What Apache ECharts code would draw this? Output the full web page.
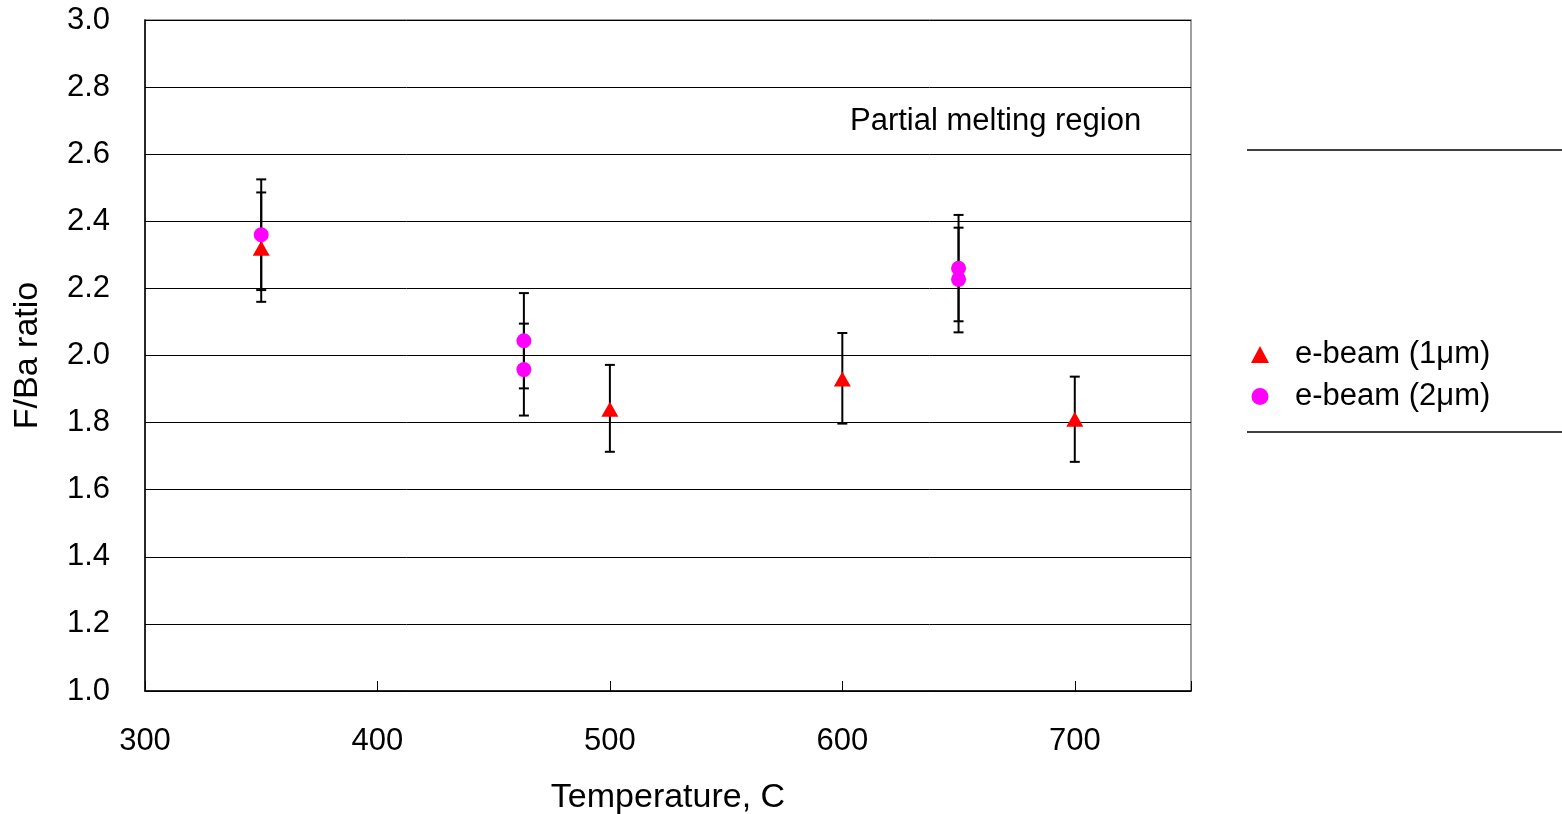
<!DOCTYPE html>
<html>
<head>
<meta charset="utf-8">
<script src="https://cdn.jsdelivr.net/npm/echarts@6/dist/echarts.min.js"></script>
<style>
  html, body { margin: 0; padding: 0; background: #fff; }
  #chart { width: 1562px; height: 814px; }
</style>
</head>
<body>
<div id="chart"></div>
<script>
// e-beam (1um): temperature, F/Ba ratio, error bar low / high
var temp1 = [350, 500, 600, 700]
var ratio1 = [2.32, 1.84, 1.93, 1.81]
var low1 = [2.16, 1.713, 1.797, 1.683]
var high1 = [2.486, 1.972, 2.067, 1.937]

// e-beam (2um)
var temp2 = [350, 463, 463, 650, 650]
var ratio2 = [2.36, 2.044, 1.958, 2.26, 2.227]
var low2 = [2.195, 1.902, 1.821, 2.102, 2.069]
var high2 = [2.525, 2.186, 2.095, 2.419, 2.381]

var seriesNames = ['e-beam (1μm)', 'e-beam (2μm)']
var noteText = 'Partial melting region'

var FONT = 'Liberation Sans, Arial, sans-serif'

function pts (xs, ys) {
  return xs.map(function (x, i) { return [x, ys[i]] })
}
function bars (xs, lo, hi) {
  return xs.map(function (x, i) { return [x, lo[i], hi[i]] })
}

// error bar: vertical line + caps
function renderErr (params, api) {
  var x = api.value(0)
  var top = api.coord([x, api.value(2)])
  var bot = api.coord([x, api.value(1)])
  var w = 5
  var st = { stroke: '#000', lineWidth: 2 }
  return {
    type: 'group',
    children: [
      { type: 'line', shape: { x1: top[0], y1: top[1], x2: bot[0], y2: bot[1] }, style: st },
      { type: 'line', shape: { x1: top[0] - w, y1: top[1], x2: top[0] + w, y2: top[1] }, style: st },
      { type: 'line', shape: { x1: bot[0] - w, y1: bot[1], x2: bot[0] + w, y2: bot[1] }, style: st }
    ]
  }
}

var myChart = echarts.init(document.getElementById('chart'))
var option = {
  animation: false,
  textStyle: { fontFamily: FONT },
  grid: {
    left: 145, right: 371, top: 20, bottom: 123,
    outerBoundsMode: 'none',
    show: true, borderColor: '#808080', borderWidth: 1.5
  },
  legend: {
    orient: 'vertical',
    left: 1246,
    top: 334,
    itemWidth: 18,
    itemHeight: 17,
    itemGap: 11,
    textStyle: { fontSize: 31, color: '#000', fontFamily: FONT, lineHeight: 31, padding: [0, 0, 0, 21] },
    data: [
      { name: seriesNames[0], icon: 'triangle' },
      { name: seriesNames[1], icon: 'circle' }
    ]
  },
  xAxis: {
    type: 'value',
    min: 300,
    max: 750,
    interval: 100,
    name: 'Temperature, C',
    nameLocation: 'middle',
    nameGap: 90,
    nameTextStyle: { fontSize: 34, color: '#000', fontFamily: FONT },
    axisLine: { lineStyle: { color: '#000', width: 1.5 } },
    axisTick: { inside: true, length: 10, lineStyle: { color: '#000' } },
    axisLabel: {
      fontSize: 31, color: '#000', margin: 35,
      formatter: function (v) { return v > 700 ? '' : v }
    },
    splitLine: { show: false }
  },
  yAxis: {
    type: 'value',
    min: 1,
    max: 3,
    interval: 0.2,
    name: 'F/Ba ratio',
    nameLocation: 'middle',
    nameGap: 100,
    nameTextStyle: { fontSize: 34, color: '#000', fontFamily: FONT },
    axisLine: { show: true, lineStyle: { color: '#000', width: 1.5 } },
    axisTick: { show: true, inside: true, length: 10, lineStyle: { color: '#000' } },
    axisLabel: {
      fontSize: 31, color: '#000', margin: 35,
      formatter: function (v) { return v.toFixed(1) }
    },
    splitLine: { show: true, lineStyle: { color: '#000', width: 1 } }
  },
  graphic: [
    { type: 'text', left: 850, top: 106, style: { text: noteText, fontSize: 31, fill: '#000', fontFamily: FONT } },
    { type: 'line', shape: { x1: 1247, y1: 150, x2: 1562, y2: 150 }, style: { stroke: '#000', lineWidth: 1.5 } },
    { type: 'line', shape: { x1: 1247, y1: 432, x2: 1562, y2: 432 }, style: { stroke: '#000', lineWidth: 1.5 } }
  ],
  series: [
    {
      type: 'custom',
      name: 'err1',
      renderItem: renderErr,
      data: bars(temp1, low1, high1),
      encode: { x: 0, y: [1, 2] },
      z: 1,
      silent: true
    },
    {
      type: 'custom',
      name: 'err2',
      renderItem: renderErr,
      data: bars(temp2, low2, high2),
      encode: { x: 0, y: [1, 2] },
      z: 1,
      silent: true
    },
    {
      type: 'scatter',
      name: seriesNames[0],
      symbol: 'triangle',
      symbolSize: [17, 15],
      itemStyle: { color: '#ff0000', opacity: 1 },
      data: pts(temp1, ratio1),
      z: 3
    },
    {
      type: 'scatter',
      name: seriesNames[1],
      symbol: 'circle',
      symbolSize: 15,
      itemStyle: { color: '#ff00ff', opacity: 1 },
      data: pts(temp2, ratio2),
      z: 4
    }
  ]
}
myChart.setOption(option)
window.addEventListener('resize', function () {
  myChart.resize()
})
</script>
</body>
</html>
